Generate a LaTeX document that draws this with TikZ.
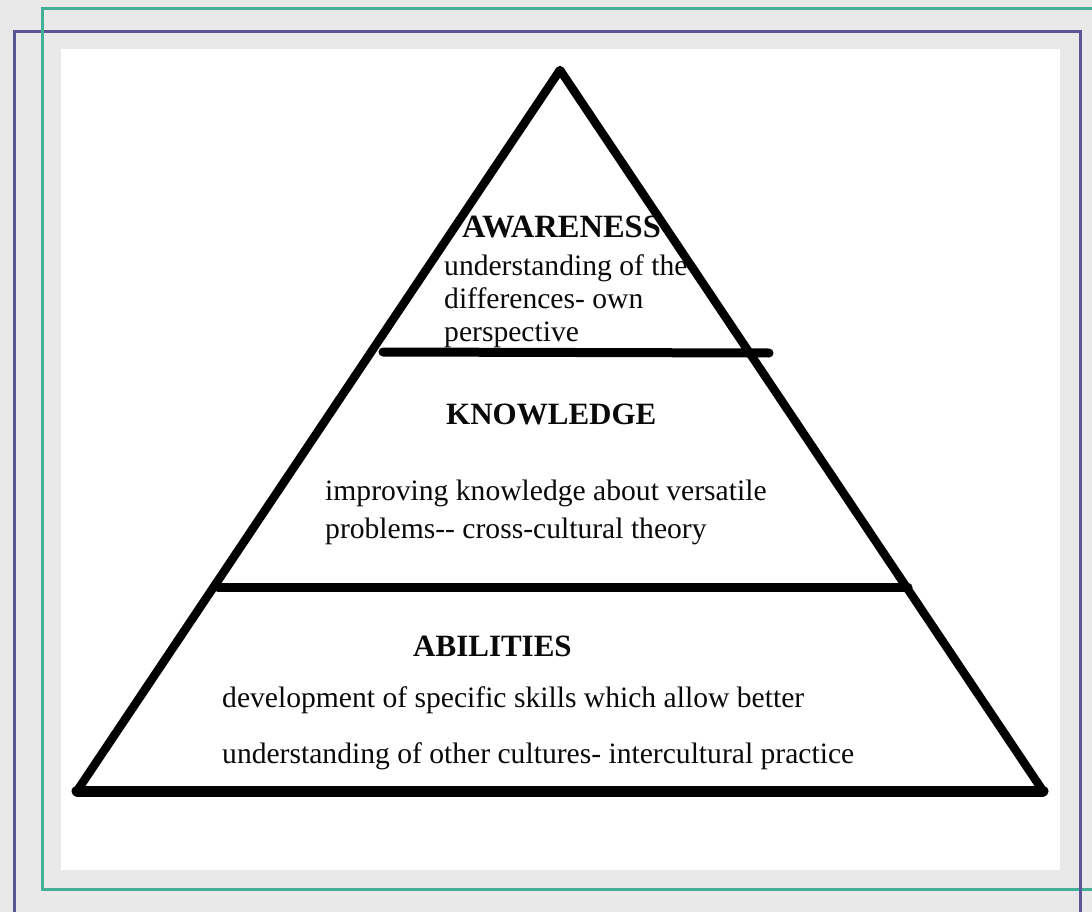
\documentclass[tikz,border=0pt]{standalone}
\usepackage{fontspec}
\setmainfont{Liberation Serif}
\definecolor{bgc}{HTML}{E9E9E9}
\definecolor{tealline}{HTML}{44AE96}
\definecolor{purpline}{HTML}{5B5797}
\definecolor{inkc}{HTML}{0A0A0A}
\begin{document}
\begin{tikzpicture}[x=1pt,y=-1pt,
  head/.style={font=\fontsize{31}{35}\selectfont\bfseries, anchor=base west, inner sep=0pt, text=inkc},
  body/.style={font=\fontsize{29.6}{33}\selectfont, anchor=base west, inner sep=0pt, text=inkc},
  side/.style={line width=8.5pt, line join=round, line cap=round},
  bar/.style={line width=9pt, line cap=round},
  framegreen/.style={tealline, line width=3pt},
  framepurple/.style={purpline, line width=3pt}]
\fill[bgc] (0,0) rectangle (1092,912);
\useasboundingbox (0,0) rectangle (1092,912);
% frames
\draw[framepurple] (14,930) -- (14,32) -- (1080,32) -- (1080,930);
\draw[framegreen] (1110,9) -- (42,9) -- (42,889) -- (1110,889);
\draw[framepurple] (1080,880) -- (1080,898);
% white sheet
\fill[white] (61,49) rectangle (1060,870);
% pyramid vertices
\coordinate (apex) at (560,70);
\coordinate (bl) at (77,791);
\coordinate (br) at (1043,791);
\coordinate (k1) at (218,587);
\coordinate (k2) at (908,587);
\coordinate (a1) at (383,352);
\coordinate (a2) at (769,353);
\draw[side] (bl) -- (apex) -- (br);
\draw[bar, line width=11pt] (bl) -- (br);
\draw[bar] (k1) -- (k2);
\draw[bar] (a1) -- (a2);
% texts
\node[head, font=\fontsize{32.5}{35}\selectfont\bfseries] (aw) at (462,237) {AWARENESS};
\node[body] (aw1) at (444,275) {understanding of the};
\node[body] (aw2) at (444,308) {differences- own};
\node[body] (aw3) at (444,341) {perspective};
\node[head] (kn) at (446,424) {KNOWLEDGE};
\node[body] (kn1) at (325,500) {improving knowledge about versatile};
\node[body] (kn2) at (325,538) {problems-{}- cross-cultural theory};
\node[head] (ab) at (413,656) {ABILITIES};
\node[body] (ab1) at (222,707) {development of specific skills which allow better};
\node[body] (ab2) at (222,763) {understanding of other cultures- intercultural practice};
\end{tikzpicture}
\end{document}
